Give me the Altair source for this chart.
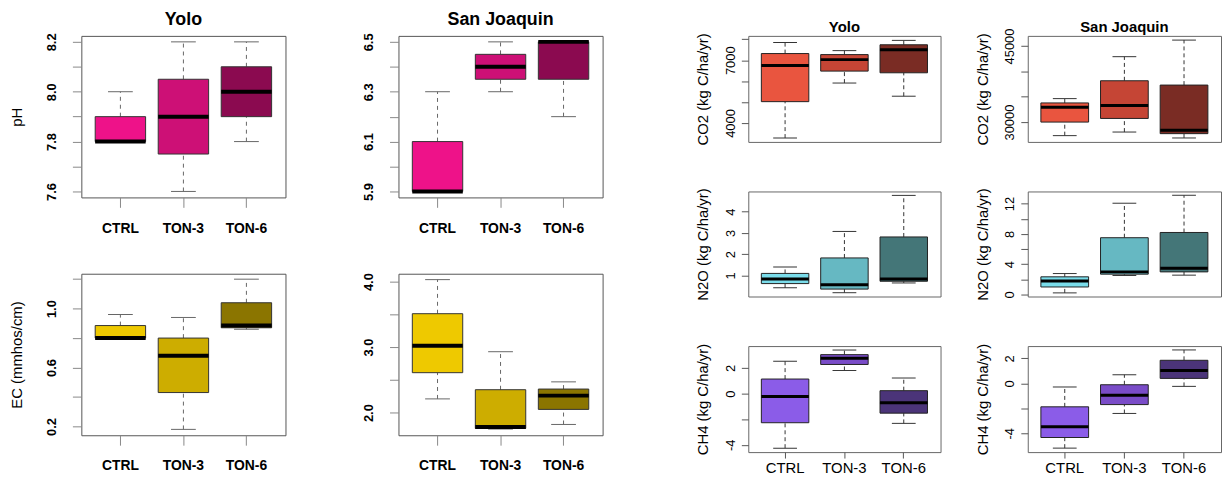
import json
import altair as alt
import pandas as pd

CATS = ["CTRL", "TON-3", "TON-6"]

# ---- pH, Yolo ----
ph_yolo_lo = [7.80, 7.60, 7.80]
ph_yolo_q1 = [7.80, 7.75, 7.90]
ph_yolo_med = [7.80, 7.90, 8.00]
ph_yolo_q3 = [7.90, 8.05, 8.10]
ph_yolo_hi = [8.00, 8.20, 8.20]

# ---- pH, San Joaquin ----
ph_sj_lo = [5.90, 6.30, 6.20]
ph_sj_q1 = [5.90, 6.35, 6.35]
ph_sj_med = [5.90, 6.40, 6.50]
ph_sj_q3 = [6.10, 6.45, 6.50]
ph_sj_hi = [6.30, 6.50, 6.50]

# ---- EC, Yolo ----
ec_yolo_lo = [0.80, 0.18, 0.86]
ec_yolo_q1 = [0.80, 0.43, 0.87]
ec_yolo_med = [0.80, 0.68, 0.885]
ec_yolo_q3 = [0.885, 0.80, 1.04]
ec_yolo_hi = [0.96, 0.94, 1.20]

# ---- EC, San Joaquin ----
ec_sj_lo = [2.21, 1.75, 1.82]
ec_sj_q1 = [2.61, 1.76, 2.05]
ec_sj_med = [3.02, 1.78, 2.26]
ec_sj_q3 = [3.51, 2.35, 2.36]
ec_sj_hi = [4.03, 2.93, 2.47]

# ---- CO2, Yolo ----
co2_yolo_lo = [3280, 5910, 5280]
co2_yolo_q1 = [5020, 6480, 6400]
co2_yolo_med = [6750, 7030, 7500]
co2_yolo_q3 = [7320, 7270, 7740]
co2_yolo_hi = [7850, 7460, 7950]

# ---- CO2, San Joaquin ----
co2_sj_lo = [27330, 28040, 26870]
co2_sj_q1 = [30000, 30720, 27720]
co2_sj_med = [32930, 33260, 28370]
co2_sj_q3 = [33780, 38150, 37300]
co2_sj_hi = [34630, 42900, 46170]

# ---- N2O, Yolo ----
n2o_yolo_lo = [0.41, 0.18, 0.64]
n2o_yolo_q1 = [0.61, 0.35, 0.72]
n2o_yolo_med = [0.83, 0.55, 0.83]
n2o_yolo_q3 = [1.09, 1.82, 2.81]
n2o_yolo_hi = [1.39, 3.07, 4.77]

# ---- N2O, San Joaquin ----
n2o_sj_lo = [0.22, 2.51, 2.56]
n2o_sj_q1 = [1.00, 2.69, 2.99]
n2o_sj_med = [1.78, 2.99, 3.47]
n2o_sj_q3 = [2.34, 7.50, 8.19]
n2o_sj_hi = [2.77, 12.05, 13.10]

# ---- CH4, Yolo ----
ch4_yolo_lo = [-4.27, 1.81, -2.33]
ch4_yolo_q1 = [-2.28, 2.28, -1.53]
ch4_yolo_med = [-0.23, 2.77, -0.72]
ch4_yolo_q3 = [1.14, 3.05, 0.23]
ch4_yolo_hi = [2.53, 3.41, 1.22]

# ---- CH4, San Joaquin ----
ch4_sj_lo = [-5.19, -2.41, -0.24]
ch4_sj_q1 = [-4.34, -1.70, 0.40]
ch4_sj_med = [-3.47, -0.95, 1.03]
ch4_sj_q3 = [-1.88, -0.11, 1.85]
ch4_sj_hi = [-0.29, 0.69, 2.68]

# palettes
PH_COLORS = ["#EE1289", "#CD1076", "#8B0A50"]
EC_COLORS = ["#EEC900", "#CDAD00", "#8B7500"]
CO2_COLORS = ["#E9553F", "#C54535", "#7A2C24"]
N2O_COLORS = ["#7ADCEA", "#66B8C2", "#447678"]
CH4_COLORS = ["#8B5CE8", "#7A4CC8", "#4B3479"]

# axis ticks / labels
PH_YOLO_TICKS = [7.6, 7.7, 7.8, 7.9, 8.0, 8.1, 8.2]
PH_YOLO_LABELS = [7.6, 7.8, 8.0, 8.2]
PH_SJ_TICKS = [5.9, 6.0, 6.1, 6.2, 6.3, 6.4, 6.5]
PH_SJ_LABELS = [5.9, 6.1, 6.3, 6.5]
EC_YOLO_TICKS = [0.2, 0.4, 0.6, 0.8, 1.0, 1.2]
EC_YOLO_LABELS = [0.2, 0.6, 1.0]
EC_SJ_TICKS = [2.0, 2.5, 3.0, 3.5, 4.0]
EC_SJ_LABELS = [2.0, 3.0, 4.0]
CO2_YOLO_TICKS = [4000, 5000, 6000, 7000, 8000]
CO2_YOLO_LABELS = [4000, 7000]
CO2_SJ_TICKS = [30000, 35000, 40000, 45000]
CO2_SJ_LABELS = [30000, 45000]
N2O_YOLO_TICKS = [1, 2, 3, 4]
N2O_YOLO_LABELS = [1, 2, 3, 4]
N2O_SJ_TICKS = [0, 2, 4, 6, 8, 10, 12]
N2O_SJ_LABELS = [0, 4, 8, 12]
CH4_TICKS = [-4, -2, 0, 2]
CH4_LABELS = [-4, 0, 2]

FONT = "Liberation Sans"

STYLES = {
    "left": dict(label_size=13, label_weight="bold", label_pad=17, tick=9, tick_color="#888888",
                 title_x=-60, title_size=15, xlab_size=14, xlab_weight="bold", xtick=10, xpad=14,
                 whisk="#666666", box_stroke="#333333", med=4, cap=25, bw=51, dash=[4, 4],
                 frame="#555555"),
    "right": dict(label_size=13, label_weight="normal", label_pad=7, tick=7, tick_color="#555555",
                  title_x=-41, title_size=15, xlab_size=15, xlab_weight="normal", xtick=6, xpad=3,
                  whisk="#333333", box_stroke="#222222", med=3, cap=24, bw=48, dash=[4, 3],
                  frame="#666666"),
}


def panel(lo, q1, med, q3, hi, colors, domain, ticks, labels, decimals, width, height,
          style, title=None, title_size=18, title_offset=10, ytitle=None, show_x=True):
    s = STYLES[style]
    df = pd.DataFrame({"cat": CATS, "lo": lo, "q1": q1, "med": med, "q3": q3, "hi": hi,
                       "fill": colors})
    fmt = "format(datum.value, '.1f')" if decimals else "toString(datum.value)"
    label_expr = f"indexof({json.dumps(labels)}, datum.value) >= 0 ? {fmt} : ''"
    yscale = alt.Scale(domain=domain, nice=False, zero=False)
    ax_kw = dict(values=ticks, labelExpr=label_expr, labelOverlap=False, labelAngle=270,
                 labelAlign="center", labelBaseline="alphabetic", labelPadding=s["label_pad"],
                 labelFontSize=s["label_size"], labelFontWeight=s["label_weight"],
                 labelColor="#000000", labelFont=FONT, tickSize=s["tick"],
                 tickColor=s["tick_color"], tickWidth=1, domain=False, grid=False)
    if ytitle:
        ax_kw.update(title=ytitle, titleX=s["title_x"], titleAngle=270, titleBaseline="alphabetic",
                     titleAlign="center", titleFontSize=s["title_size"], titleFontWeight="normal",
                     titleColor="#000000", titleFont=FONT)
    else:
        ax_kw.update(title=None)
    yaxis = alt.Axis(**ax_kw)

    if show_x:
        xaxis = alt.Axis(title=None, domain=False, grid=False, labelAngle=0, tickBand="center",
                         tickSize=s["xtick"], tickColor=s["tick_color"], labelPadding=s["xpad"],
                         labelFontSize=s["xlab_size"], labelFontWeight=s["xlab_weight"],
                         labelColor="#000000", labelFont=FONT)
    else:
        xaxis = None
    X = alt.X("cat:N", sort=CATS, scale=alt.Scale(domain=CATS, paddingInner=0.2, paddingOuter=0.22),
              axis=xaxis)

    def Y(f):
        return alt.Y(f"{f}:Q", scale=yscale, axis=yaxis)

    base = alt.Chart(df)
    w_lo = base.mark_rule(color=s["whisk"], strokeWidth=1, strokeDash=s["dash"], opacity=1).encode(
        x=X, y=Y("lo"), y2="q1:Q")
    w_hi = base.mark_rule(color=s["whisk"], strokeWidth=1, strokeDash=s["dash"], opacity=1).encode(
        x=X, y=Y("q3"), y2="hi:Q")
    c_lo = base.mark_tick(color=s["whisk"], thickness=1, size=s["cap"], opacity=1).encode(x=X, y=Y("lo"))
    c_hi = base.mark_tick(color=s["whisk"], thickness=1, size=s["cap"], opacity=1).encode(x=X, y=Y("hi"))
    box = base.mark_bar(stroke=s["box_stroke"], strokeWidth=1, opacity=1).encode(
        x=X, y=Y("q1"), y2="q3:Q", color=alt.Color("fill:N", scale=None, legend=None))
    md = base.mark_tick(color="#000000", thickness=s["med"], size=s["bw"], opacity=1).encode(
        x=X, y=Y("med"))
    props = dict(width=width, height=height,
                 view=alt.ViewBackground(stroke=s["frame"], strokeWidth=1))
    if title:
        props["title"] = alt.TitleParams(title, fontSize=title_size, fontWeight="bold", font=FONT,
                                         anchor="middle", frame="group", baseline="alphabetic",
                                         offset=title_offset, color="#000000")
    return alt.layer(w_lo, w_hi, c_lo, c_hi, box, md).properties(**props)


LW, LH = 206, 163
ph_y = panel(ph_yolo_lo, ph_yolo_q1, ph_yolo_med, ph_yolo_q3, ph_yolo_hi, PH_COLORS,
             [7.576, 8.224], PH_YOLO_TICKS, PH_YOLO_LABELS, True, LW, LH, "left",
             title="Yolo", title_size=18, title_offset=-10, ytitle="pH")
ph_s = panel(ph_sj_lo, ph_sj_q1, ph_sj_med, ph_sj_q3, ph_sj_hi, PH_COLORS,
             [5.876, 6.524], PH_SJ_TICKS, PH_SJ_LABELS, True, LW, LH, "left",
             title="San Joaquin", title_size=18, title_offset=-10)
ec_y = panel(ec_yolo_lo, ec_yolo_q1, ec_yolo_med, ec_yolo_q3, ec_yolo_hi, EC_COLORS,
             [0.14, 1.237], EC_YOLO_TICKS, EC_YOLO_LABELS, True, LW, LH, "left",
             ytitle="EC (mmhos/cm)")
ec_s = panel(ec_sj_lo, ec_sj_q1, ec_sj_med, ec_sj_q3, ec_sj_hi, EC_COLORS,
             [1.655, 4.12], EC_SJ_TICKS, EC_SJ_LABELS, True, LW, LH, "left")

co2_y = panel(co2_yolo_lo, co2_yolo_q1, co2_yolo_med, co2_yolo_q3, co2_yolo_hi, CO2_COLORS,
              [3094, 8165], CO2_YOLO_TICKS, CO2_YOLO_LABELS, False, 194, 107, "right",
              title="Yolo", title_size=15, title_offset=-14, ytitle="CO2 (kg C/ha/yr)", show_x=False)
co2_s = panel(co2_sj_lo, co2_sj_q1, co2_sj_med, co2_sj_q3, co2_sj_hi, CO2_COLORS,
              [26090, 47000], CO2_SJ_TICKS, CO2_SJ_LABELS, False, 195, 107, "right",
              title="San Joaquin", title_size=15, title_offset=-19, ytitle="CO2 (kg C/ha/yr)",
              show_x=False)
n2o_y = panel(n2o_yolo_lo, n2o_yolo_q1, n2o_yolo_med, n2o_yolo_q3, n2o_yolo_hi, N2O_COLORS,
              [0.0, 4.955], N2O_YOLO_TICKS, N2O_YOLO_LABELS, False, 194, 106, "right",
              ytitle="N2O (kg C/ha/yr)", show_x=False)
n2o_s = panel(n2o_sj_lo, n2o_sj_q1, n2o_sj_med, n2o_sj_q3, n2o_sj_hi, N2O_COLORS,
              [-0.26, 13.6], N2O_SJ_TICKS, N2O_SJ_LABELS, False, 195, 106, "right",
              ytitle="N2O (kg C/ha/yr)", show_x=False)
ch4_y = panel(ch4_yolo_lo, ch4_yolo_q1, ch4_yolo_med, ch4_yolo_q3, ch4_yolo_hi, CH4_COLORS,
              [-4.58, 3.72], CH4_TICKS, CH4_LABELS, False, 194, 107, "right",
              ytitle="CH4 (kg C/ha/yr)")
ch4_s = panel(ch4_sj_lo, ch4_sj_q1, ch4_sj_med, ch4_sj_q3, ch4_sj_hi, CH4_COLORS,
              [-5.51, 2.99], CH4_TICKS, CH4_LABELS, False, 195, 107, "right",
              ytitle="CH4 (kg C/ha/yr)")

left = alt.concat(ph_y, ph_s, ec_y, ec_s, columns=2, bounds="flush",
                  spacing={"row": 77, "column": 114})
right = alt.concat(co2_y, co2_s, n2o_y, n2o_s, ch4_y, ch4_s, columns=2, bounds="flush",
                   spacing={"row": 50, "column": 88},
                   title=alt.TitleParams(" ", fontSize=7, offset=0))

chart = (
    alt.hconcat(left, right, spacing=92)
    .properties(padding={"left": 1, "top": 0, "right": 0, "bottom": 0})
    .configure_view(stroke="#555555", strokeWidth=1)
    .configure(font=FONT)
)

chart.save("out.html", embed_options={"renderer": "svg", "actions": False})
